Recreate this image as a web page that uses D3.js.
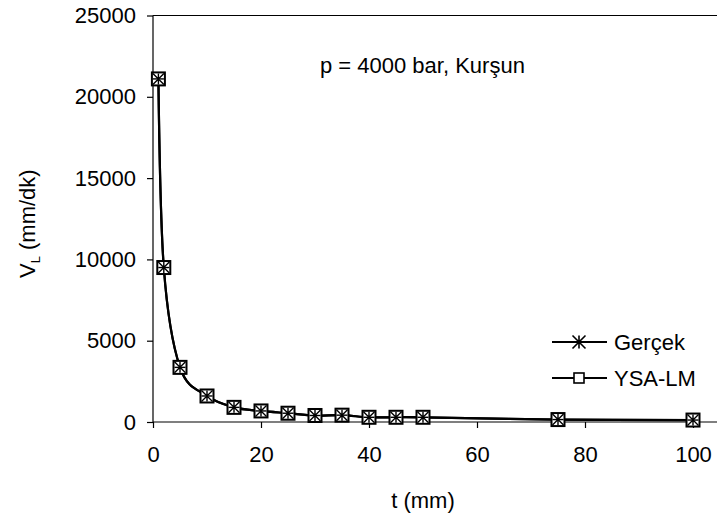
<!DOCTYPE html>
<html><head><meta charset="utf-8">
<script src="https://cdn.jsdelivr.net/npm/d3@7"></script>
<style>
html,body{margin:0;padding:0;background:#fff;}
svg{display:block;font-family:Arial,"Liberation Sans",sans-serif;}
</style></head>
<body>
<svg id="chart" width="717" height="523"></svg>
<script>
const tValues = [1, 2, 5, 10, 15, 20, 25, 30, 35, 40, 45, 50, 75, 100];
const gercek = [21100, 9500, 3360, 1600, 900, 680, 540, 400, 420, 290, 290, 290, 150, 120];
const ysaLM  = [21100, 9500, 3360, 1600, 900, 680, 540, 400, 420, 290, 290, 290, 150, 120];
const xTicks = [0, 20, 40, 60, 80, 100];
const yTicks = [0, 5000, 10000, 15000, 20000, 25000];
const seriesNames = ["Gerçek", "YSA-LM"];
const titleText = "p = 4000 bar, Kurşun";

(function () {
const svg = d3.select("#chart");
const pL = 153, pR = 717, pT = 15.5, pB = 422;
const x = d3.scaleLinear().domain([0, 100]).range([pL, pL + 540]);
const y = d3.scaleLinear().domain([0, 25000]).range([pB, pT]);
const fs = 22;
const ff = "Arial, 'Liberation Sans', sans-serif";

svg.append("line").attr("x1", pL).attr("x2", pR).attr("y1", pT).attr("y2", pT)
  .attr("stroke", "#000").attr("stroke-width", 1.2);

const xa = svg.append("g").attr("transform", `translate(0,${pB})`)
  .call(d3.axisBottom(x).tickValues(xTicks).tickSize(6).tickPadding(18).tickFormat(d3.format("d")));
xa.select(".domain").remove();
xa.selectAll("text").attr("font-size", fs).attr("font-family", ff).attr("fill", "#000");
xa.selectAll("line").attr("stroke", "#000").attr("stroke-width", 1.2);
svg.append("line").attr("x1", pL).attr("x2", pR).attr("y1", pB).attr("y2", pB)
  .attr("stroke", "#000").attr("stroke-width", 1.2);

const ya = svg.append("g").attr("transform", `translate(${pL},0)`)
  .call(d3.axisLeft(y).tickValues(yTicks).tickSize(6).tickPadding(11).tickFormat(d3.format("d")));
ya.select(".domain").remove();
ya.selectAll("text").attr("font-size", fs).attr("font-family", ff).attr("fill", "#000");
ya.selectAll("line").attr("stroke", "#000").attr("stroke-width", 1.2);
svg.append("line").attr("x1", pL).attr("x2", pL).attr("y1", pT).attr("y2", pB)
  .attr("stroke", "#000").attr("stroke-width", 1.2);

svg.append("text").attr("x", 423).attr("y", 508).attr("text-anchor", "middle")
  .attr("font-size", fs).text("t (mm)");
const yl = svg.append("text").attr("transform", "translate(35,278) rotate(-90)")
  .attr("text-anchor", "start").attr("font-size", fs);
yl.append("tspan").text("V");
yl.append("tspan").attr("font-size", 13).attr("dy", 5).text("L");
yl.append("tspan").attr("dy", -5).text(" (mm/dk)");

svg.append("text").attr("x", 320).attr("y", 73).attr("font-size", fs).text(titleText);

const line = d3.line().x((d, i) => x(tValues[i])).y(d => y(d)).curve(d3.curveCatmullRom.alpha(0));
[gercek, ysaLM].forEach(s => {
  svg.append("path").attr("d", line(s)).attr("fill", "none").attr("stroke", "#000").attr("stroke-width", 2.2);
});

function square(g, cx, cy, s, sw) {
  g.append("rect").attr("x", cx - s / 2).attr("y", cy - s / 2).attr("width", s).attr("height", s)
    .attr("fill", "#fff").attr("stroke", "#000").attr("stroke-width", sw);
}
function asterisk(g, cx, cy, s, sw) {
  const h = s / 2;
  const p = d3.path();
  p.moveTo(cx, cy - h); p.lineTo(cx, cy + h);
  p.moveTo(cx - h, cy - h); p.lineTo(cx + h, cy + h);
  p.moveTo(cx - h, cy + h); p.lineTo(cx + h, cy - h);
  g.append("path").attr("d", p.toString()).attr("stroke", "#000").attr("stroke-width", sw).attr("fill", "none");
}
const mg = svg.append("g");
ysaLM.forEach((v, i) => square(mg, x(tValues[i]), y(v), 13, 2));
gercek.forEach((v, i) => {
  asterisk(mg, x(tValues[i]), y(v), 11, 1.4);
  mg.append("line").attr("x1", x(tValues[i]) - 5.5).attr("x2", x(tValues[i]) + 5.5)
    .attr("y1", y(v)).attr("y2", y(v)).attr("stroke", "#000").attr("stroke-width", 1.4);
});

const legRows = [342, 378];
seriesNames.forEach((name, i) => {
  const ly = legRows[i];
  svg.append("line").attr("x1", 552).attr("x2", 607).attr("y1", ly).attr("y2", ly)
    .attr("stroke", "#000").attr("stroke-width", 2);
  if (i === 0) asterisk(svg, 579, ly, 13, 1.6);
  else square(svg, 579, ly, 10, 1.6);
  svg.append("text").attr("x", 614).attr("y", ly + 8).attr("font-size", fs).text(name);
});
})();
</script>
</body></html>
